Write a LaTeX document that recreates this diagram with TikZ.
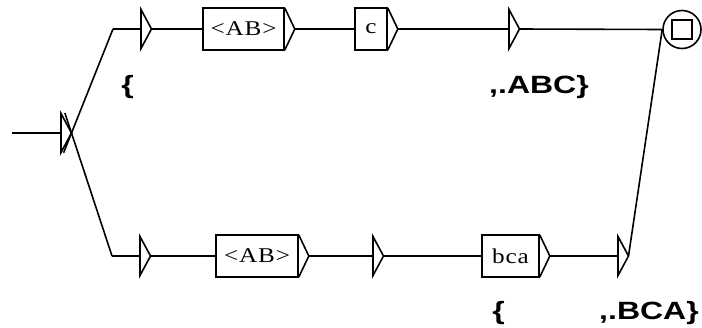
\documentclass[tikz,border=0pt]{standalone}
\usepackage{fontspec}
\usetikzlibrary{calc}
\newfontfamily\boxfont[FakeStretch=1.2,LetterSpace=4]{Liberation Serif}
\newfontfamily\outfont[FakeStretch=1.28]{Liberation Sans}
\tikzset{
  conn/.style={line width=1.6pt},
  lbox/.style={draw, line width=1.6pt, minimum height=42pt, inner sep=0pt,
    font={\boxfont\fontsize{21}{21}\selectfont}},
  outlbl/.style={font={\outfont\bfseries\fontsize{25}{25}\selectfont}, inner sep=0pt, anchor=base},
  etri/.pic={\draw[line width=1.6pt, line join=miter] (0,-19.5) -- (10.5,0) -- (0,19.5) -- cycle;
    \coordinate (-in) at (0,0); \coordinate (-out) at (10.5,0);},
  otri/.pic={\draw[line width=1.6pt, line join=miter] (0,-21) -- (10,0) -- (0,21);
    \coordinate (-out) at (10,0);}
}
\begin{document}
\begin{tikzpicture}[x=1pt,y=-1pt]
\useasboundingbox (0,0) rectangle (702,327);
% initial state
\coordinate (start) at (12,133);
\pic (init) at (61,133) {etri};
\draw[conn] (start) -- (init-in);
% top path
\coordinate (c1) at (113,29);
\pic (e1) at (141,29) {etri};
\node[lbox, minimum width=81pt] (b1) at (243.5,29) {<AB>};
\pic (b1t) at (b1.east) {otri};
\node[lbox, minimum width=32pt] (b2) at (371,29) {c};
\pic (b2t) at (b2.east) {otri};
\pic (e2) at (509,29) {etri};
\node[circle, draw, conn, minimum size=38pt, inner sep=0pt] (fin) at (682,29.5) {};
\node[draw, conn, minimum size=19.5pt, inner sep=0pt] (finsq) at (682,29.5) {};
% bottom path
\coordinate (c2) at (112,256);
\pic (e3) at (140,256) {etri};
\node[lbox, minimum width=82pt] (b3) at (257,256) {<AB>};
\pic (b3t) at (b3.east) {otri};
\pic (e4) at (373,256) {etri};
\node[lbox, minimum width=57pt] (b4) at (510.5,256) {bca};
\pic (b4t) at (b4.east) {otri};
\pic (e5) at (618,256) {etri};
% connectors
\draw[conn] (c1) -- ($(c1)!1.19!(init-out)$);
\draw[conn] (c2) -- ($(c2)!1.163!(init-out)$);
\draw[conn] (c1) -- (e1-in);
\draw[conn] (e1-out) -- (b1.west);
\draw[conn] (b1t-out) -- (b2.west);
\draw[conn] (b2t-out) -- (e2-in);
\draw[conn] (e2-out) -- (fin.west);
\draw[conn] (c2) -- (e3-in);
\draw[conn] (e3-out) -- (b3.west);
\draw[conn] (b3t-out) -- (e4-in);
\draw[conn] (e4-out) -- (b4.west);
\draw[conn] (b4t-out) -- (e5-in);
\draw[conn] (e5-out) -- (fin.west);
% outputs
\node[outlbl] (o1) at (127.5,93) {\{};
\node[outlbl] (o2) at (539,93) {,.ABC\}};
\node[outlbl] (o3) at (498.5,319) {\{};
\node[outlbl] (o4) at (649,319) {,.BCA\}};
\end{tikzpicture}
\end{document}
